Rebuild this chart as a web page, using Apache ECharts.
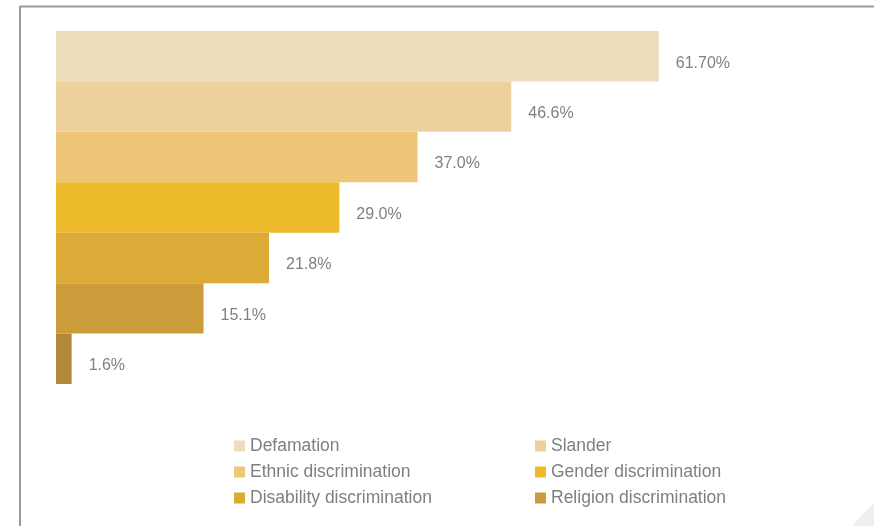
<!DOCTYPE html>
<html>
<head>
<meta charset="utf-8">
<script src="https://cdn.jsdelivr.net/npm/echarts@6/dist/echarts.min.js"></script>
<style>
html,body{margin:0;padding:0;background:#fff;}
#c{width:874px;height:526px;}
</style>
</head>
<body>
<div id="c"></div>
<script>
var categories = ["Defamation","Slander","Ethnic discrimination","Gender discrimination","Disability discrimination","Religion discrimination","Other"];
var values = [61.7, 46.6, 37.0, 29.0, 21.8, 15.1, 1.6];
var labels = ["61.70%","46.6%","37.0%","29.0%","21.8%","15.1%","1.6%"];
var legendLeft = ["Defamation","Ethnic discrimination","Disability discrimination"];
var legendRight = ["Slander","Gender discrimination","Religion discrimination"];
var colors = ["#EDDDBA","#EDD09B","#EDC677","#EDBB2B","#DCAA36","#CC9C3B","#B38839"];

var series = categories.map(function(name, i){
  var d = categories.map(function(_, j){ return j === i ? values[i] : '-'; });
  return {
    name: name, type: 'bar', stack: 'all', data: d,
    barCategoryGap: 0,
    itemStyle: {color: colors[i]},
    label: {show: true, position: 'right', distance: 17, offset: [0, 7], fontSize: 16, color: '#808080',
      fontFamily: 'Liberation Sans, Arial, sans-serif',
      formatter: function(){ return labels[i]; }},
    silent: true, animation: false
  };
});

var chart = echarts.init(document.getElementById('c'), null, {renderer: 'canvas'});
var legendText = {fontSize: 17.5, color: '#7f7f7f', fontFamily: 'Liberation Sans, Arial, sans-serif', lineHeight: 20};
chart.setOption({
  animation: false,
  backgroundColor: '#ffffff',
  grid: {left: 56, top: 31, width: 781.6, height: 353, containLabel: false},
  xAxis: {type: 'value', min: 0, max: 80, show: false},
  yAxis: {type: 'category', data: categories, inverse: true, show: false},
  legend: [
    {data: legendLeft, orient: 'vertical', left: 229, top: 431, itemWidth: 11, itemHeight: 11, itemGap: 6, icon: 'rect', textStyle: legendText, selectedMode: false},
    {data: legendRight, orient: 'vertical', left: 530, top: 431, itemWidth: 11, itemHeight: 11, itemGap: 6, icon: 'rect', textStyle: legendText, selectedMode: false}
  ],
  graphic: [
    {type: 'line', shape: {x1: 20, y1: 6.5, x2: 874, y2: 6.5}, style: {stroke: '#9a9a9a', lineWidth: 2}},
    {type: 'line', shape: {x1: 20, y1: 6, x2: 20, y2: 526}, style: {stroke: '#9a9a9a', lineWidth: 2}},
    {type: 'polygon', shape: {points: [[852,526],[874,503],[874,526]]}, style: {fill: '#eef0ef'}}
  ],
  series: series
});
</script>
</body>
</html>
